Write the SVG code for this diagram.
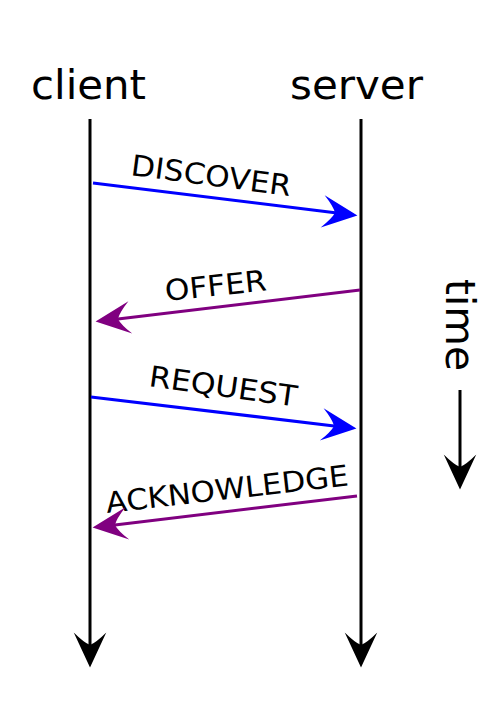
<svg xmlns="http://www.w3.org/2000/svg" width="500" height="708" viewBox="0 0 500 708">
<style>
text{font-family:"DejaVu Sans",sans-serif;fill:#000}
.big{font-size:40px}
.lbl{font-size:29px}
.life{stroke:#000;stroke-width:3;fill:none}
.blue{stroke:#0000ff;stroke-width:3;fill:none}
.purple{stroke:#800080;stroke-width:3;fill:none}
</style>
<defs>
<marker id="ak" markerUnits="userSpaceOnUse" orient="auto" refX="0" refY="0" markerWidth="40" markerHeight="40" viewBox="-12 -15 32 30" overflow="visible">
<path d="M18,0 L-10,-13 Q-2,-5 0,0 Q-2,5 -10,13 Z" fill="#000"/>
</marker>
<marker id="ab" markerUnits="userSpaceOnUse" orient="auto" refX="0" refY="0" markerWidth="40" markerHeight="40" viewBox="-12 -15 32 30" overflow="visible">
<path d="M18,0 L-10,-13 Q-2,-5 0,0 Q-2,5 -10,13 Z" fill="#0000ff"/>
</marker>
<marker id="ap" markerUnits="userSpaceOnUse" orient="auto" refX="0" refY="0" markerWidth="40" markerHeight="40" viewBox="-12 -15 32 30" overflow="visible">
<path d="M18,0 L-10,-13 Q-2,-5 0,0 Q-2,5 -10,13 Z" fill="#800080"/>
</marker>
</defs>
<g id="client">
<text class="big" x="31" y="99" textLength="115" lengthAdjust="spacingAndGlyphs">client</text>
</g>
<g id="server">
<text class="big" x="290" y="99" textLength="133" lengthAdjust="spacingAndGlyphs">server</text>
</g>
<g id="time">
<text class="big" x="446" y="279" transform="rotate(90 446 279)" textLength="92" lengthAdjust="spacingAndGlyphs">time</text>
</g>
<g id="labels">
<text class="lbl" x="130" y="175" transform="rotate(7.5 130 175)" textLength="161" lengthAdjust="spacingAndGlyphs">DISCOVER</text>
<text class="lbl" x="166" y="301" transform="rotate(-6 166 301)" textLength="102" lengthAdjust="spacingAndGlyphs">OFFER</text>
<text class="lbl" x="148" y="386" transform="rotate(8 148 386)" textLength="149" lengthAdjust="spacingAndGlyphs">REQUEST</text>
<text class="lbl" x="107" y="513" transform="rotate(-6.5 107 513)" textLength="244" lengthAdjust="spacingAndGlyphs">ACKNOWLEDGE</text>
</g>
<g id="connectors">
<line class="life" x1="90" y1="119" x2="90" y2="645" marker-end="url(#ak)"/>
<line class="life" x1="361" y1="119" x2="361" y2="645" marker-end="url(#ak)"/>
<line class="life" x1="460" y1="390" x2="460" y2="467" marker-end="url(#ak)"/>
<line class="blue" x1="93" y1="183" x2="335.1" y2="212.8" marker-end="url(#ab)"/>
<line class="purple" x1="360" y1="290" x2="117.9" y2="318.9" marker-end="url(#ap)"/>
<line class="blue" x1="91" y1="397" x2="334.1" y2="425.9" marker-end="url(#ab)"/>
<line class="purple" x1="357" y1="496" x2="114.9" y2="524.9" marker-end="url(#ap)"/>
</g>
</svg>
